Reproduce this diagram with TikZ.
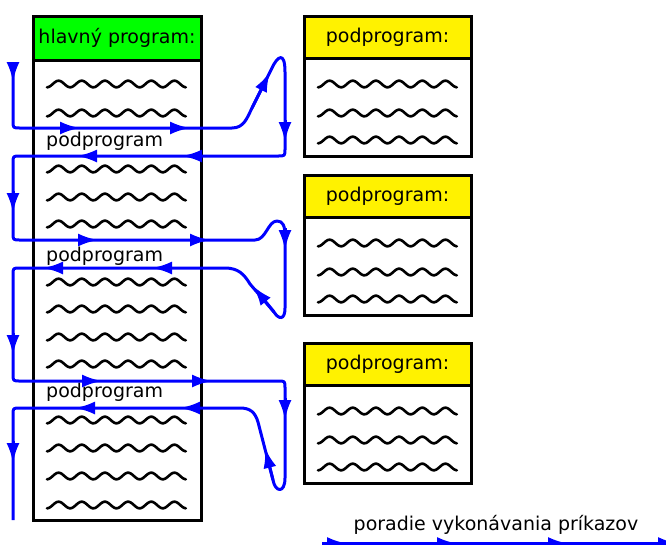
\documentclass[tikz,border=0pt]{standalone}
\usepackage{fontspec}
\setmainfont{DejaVu Sans}
\usetikzlibrary{arrows.meta}
\begin{document}
\begin{tikzpicture}[x=1pt,y=-1pt,
  frame/.style={draw=black,line width=3pt,inner sep=0pt,outer sep=0pt,anchor=north west},
  label/.style={inner sep=0pt,font=\fontsize{19}{22}\selectfont},
  wavy/.style={draw=black,line width=2.6pt,line cap=round},
  flow/.style={draw=blue,line width=3pt,line join=round},
  flowtip/.style={flow,-{Latex[length=20pt,width=13pt]}}
]
\useasboundingbox (0,0) rectangle (666,544);
\clip (0,0) rectangle (666,544);

% one line of "code": six periods of a wave, 139pt long
\newcommand{\codeline}[2]{%
  \draw[wavy] plot[domain=0:1,samples=120] ({#1+139*\x},{#2+3.3*cos(2160*\x)});}

% main program
\node[frame,fill=green,minimum width=168pt,minimum height=44pt] (mainhead) at (33,16) {};
\node[label] (maintitle) at (mainhead.center) {hlavný program:};
\node[frame,fill=white,minimum width=168pt,minimum height=460pt] (mainbody) at (33,60) {};
\foreach \y in {84,113,169,197,224,282,309,337,364,420,448,476,505}
  {\codeline{47}{\y}}
\node[label,anchor=west] (call1) at (46,141) {podprogram};
\node[label,anchor=west] (call2) at (46,256) {podprogram};
\node[label,anchor=west] (call3) at (46,392) {podprogram};

% subprograms
\foreach \t/\n in {16/1,175/2,343/3}{
  \node[frame,fill=yellow,minimum width=167pt,minimum height=42pt] (subhead\n) at (304,\t) {};
  \node[label] (subtitle\n) at (subhead\n.center) {podprogram:};
  \node[frame,fill=white,minimum width=167pt,minimum height=98pt] (subbody\n) at (304,\t+42) {};
  \foreach \d in {26,55,82} {\codeline{318}{\t+42+\d}}
}

% order of execution
\draw[flow]
  (13,62) -- (13,121) .. controls (13,128) .. (20,128) -- (232,128)
  .. controls (244,128) and (247,118) .. (252,108) -- (272,68)
  .. controls (277,57) and (285,50) .. (285,72) -- (285,149)
  .. controls (285,156) .. (278,156) -- (20,156)
  .. controls (13,156) .. (13,163) -- (13,233)
  .. controls (13,240) .. (20,240) -- (255,240)
  .. controls (266,240) and (268,221) .. (277,221)
  .. controls (283,221) and (285,226) .. (285,236) -- (285,308)
  .. controls (285,320) and (279,320) .. (274,312) -- (250,284)
  .. controls (244,274) and (238,268) .. (225,268) -- (20,268)
  .. controls (13,268) .. (13,275) -- (13,374)
  .. controls (13,381) .. (20,381) -- (278,381)
  .. controls (285,381) .. (285,388) -- (285,478)
  .. controls (285,494) and (275,492) .. (273,480) -- (258,422)
  .. controls (255,412) and (250,408) .. (240,408) -- (20,408)
  .. controls (13,408) .. (13,415) -- (13,520);

% direction marks along the path
\foreach \a/\b in {
  {13,62}/{13,82},{60,128}/{80,128},{170,128}/{190,128},{252,108}/{270,72},
  {285,120}/{285,142},{202,156}/{182,156},{97,156}/{77,156},
  {13,191}/{13,213},{78,240}/{98,240},{190,240}/{210,240},{285,228}/{285,250},
  {274,312}/{253,286},{172,268}/{152,268},{63,268}/{43,268},
  {13,333}/{13,355},{82,381}/{102,381},{192,381}/{212,381},{285,398}/{285,420},
  {273,480}/{265,448},{200,408}/{180,408},{95,408}/{75,408},{13,441}/{13,463}}
  {\draw[flowtip] (\a) -- (\b);}

% legend
\node[label] (legend) at (496,525) {poradie vykonávania príkazov};
\coordinate (legstart) at (322,543.5);
\coordinate (legstop) at (690,543.5);
\draw[flow] (legstart) -- (legstop);
\foreach \s in {322,432,543,653}
  {\draw[flowtip] (\s,543.5) -- (\s+25,543.5);}
\end{tikzpicture}
\end{document}
